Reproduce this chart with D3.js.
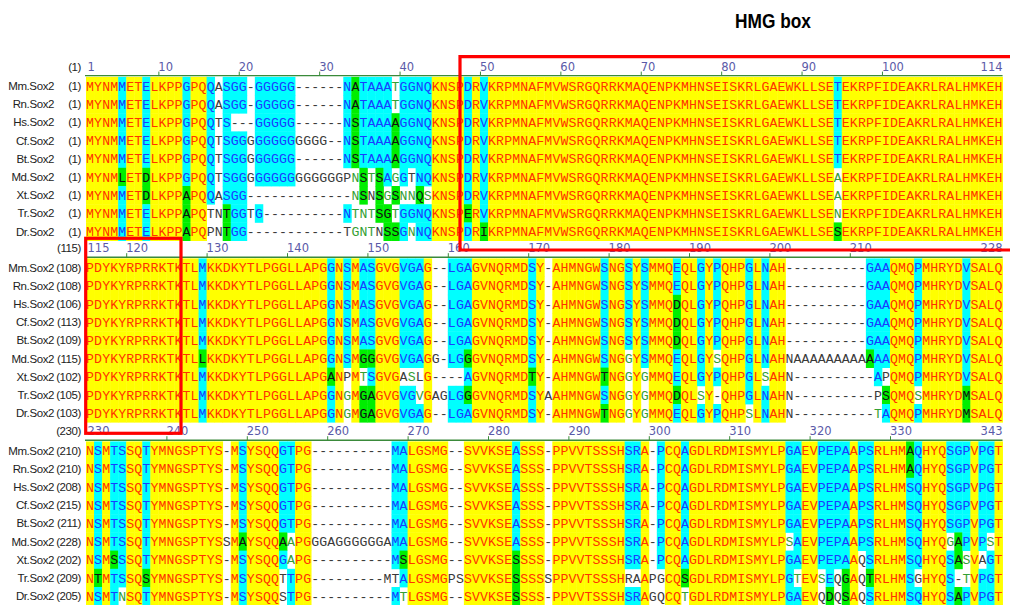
<!DOCTYPE html>
<html>
<head>
<meta charset="utf-8">
<script src="https://cdn.jsdelivr.net/npm/d3@7"></script>
<style>
  body { margin: 0; background: #fff; }
  svg { display: block; }
</style>
</head>
<body>
<svg id="chart" width="1010" height="605"></svg>
<script>
// Sox2 protein alignment, three blocks of 114 columns each.
const species = ["Mm.Sox2", "Rn.Sox2", "Hs.Sox2", "Cf.Sox2", "Bt.Sox2", "Md.Sox2", "Xt.Sox2", "Tr.Sox2", "Dr.Sox2"];

// Block 1: alignment columns 1-114
const block1 = [
  "MYNMMETELKPPGPQQASGG-GGGGG------NATAAATGGNQKNSPDRVKRPMNAFMVWSRGQRRKMAQENPKMHNSEISKRLGAEWKLLSETEKRPFIDEAKRLRALHMKEH",
  "MYNMMETELKPPGPQQASGG-GGGGG------NATAAATGGNQKNSPDRVKRPMNAFMVWSRGQRRKMAQENPKMHNSEISKRLGAEWKLLSETEKRPFIDEAKRLRALHMKEH",
  "MYNMMETELKPPGPQQTS---GGGGG------NSTAAAAGGNQKNSPDRVKRPMNAFMVWSRGQRRKMAQENPKMHNSEISKRLGAEWKLLSETEKRPFIDEAKRLRALHMKEH",
  "MYNMMETELKPPGPQQTSGGGGGGGGGGGG--NSTAAAAGGNQKNSPDRVKRPMNAFMVWSRGQRRKMAQENPKMHNSEISKRLGAEWKLLSETEKRPFIDEAKRLRALHMKEH",
  "MYNMMETELKPPGPQQTSGGGGGGGG------NSTAAAAGGNQKNSPDRVKRPMNAFMVWSRGQRRKMAQENPKMHNSEISKRLGAEWKLLSETEKRPFIDEAKRLRALHMKEH",
  "MYNMLETDLKPPGPQQTSGGGGGGGGGGGGGGPNSTSAGGTNQKNSPDRVKRPMNAFMVWSRGQRRKMAQENPKMHNSEISKRLGAEWKLLSEAEKRPFIDEAKRLRALHMKEH",
  "MYNMMETDLKPPAPQQASGG-------------NSNSGSNNQSKNSPDRVKRPMNAFMVWSRGQRRKMAQENPKMHNSEISKRLGAEWKLLSEAEKRPFIDEAKRLRALHMKEH",
  "MYNMMETELKPPAPQTNTGGTG----------NTNTSGTGGNQKNSPERVKRPMNAFMVWSRGQRRKMAQENPKMHNSEISKRLGAEWKLLSENEKRPFIDEAKRLRALHMKEH",
  "MYNMMETELKPPAPQPNTGG------------TGNTNSSGNNQKNSPDRIKRPMNAFMVWSRGQRRKMAQENPKMHNSEISKRLGAEWKLLSESEKRPFIDEAKRLRALHMKEH"
];

// Block 2: alignment columns 115-228
const block2 = [
  "PDYKYRPRRKTKTLMKKDKYTLPGGLLAPGGNSMASGVGVGAG--LGAGVNQRMDSY-AHMNGWSNGSYSMMQEQLGYPQHPGLNAH----------GAAQMQPMHRYDVSALQ",
  "PDYKYRPRRKTKTLMKKDKYTLPGGLLAPGGNSMASGVGVGAG--LGAGVNQRMDSY-AHMNGWSNGSYSMMQEQLGYPQHPGLNAH----------GAAQMQPMHRYDVSALQ",
  "PDYKYRPRRKTKTLMKKDKYTLPGGLLAPGGNSMASGVGVGAG--LGAGVNQRMDSY-AHMNGWSNGSYSMMQDQLGYPQHPGLNAH----------GAAQMQPMHRYDVSALQ",
  "PDYKYRPRRKTKTLMKKDKYTLPGGLLAPGGNSMASGVGVGAG--LGAGVNQRMDSY-AHMNGWSNGSYSMMQDQLGYPQHPGLNAH----------GAAQMQPMHRYDVSALQ",
  "PDYKYRPRRKTKTLMKKDKYTLPGGLLAPGGNSMASGVGVGAG--LGAGVNQRMDSY-AHMNGWSNGSYSMMQDQLGYPQHPGLNAH----------GAAQMQPMHRYDVSALQ",
  "PDYKYRPRRKTKTLLKKDKYTLPGGLLAPGGNSMGGGVGVGAGG-LGGGVNQRMDSY-AHMNGWSNGGYSMMQEQLGYSQHPGLNAHNAAAAAAAAAAAAQMQPMHRYDVSALQ",
  "PDYKYRPRRKTKTLMKKDKYTLPGGLLAPGANPMTSGVGASLG----AGVNQRMDTY-AHMNGWTNGGYGMMQEQLGYPQHPGLSAHN----------APQMQPMHRYDVSALQ",
  "PDYKYRPRRKTKTLMKKDKYTLPGGLLAPGGNGMGAGVGVGVGAGLGGGVNQRMDSYAAHMNGWSNGGYGMMQDQLSY-QHPGLNAHN----------PSQMQSMHRYDMSALQ",
  "PDYKYRPRRKTKTLMKKDKYTLPGGLLAPGGNGMGAGVGVGAG--LGAGVNQRMDSY-AHMNGWTNGGYGMMQEQLGYPQHPSLNAHN----------TAQMQPMHRYDMSALQ"
];

// Block 3: alignment columns 230-343
const block3 = [
  "NSMTSSQTYMNGSPTYS-MSYSQQGTPG----------MALGSMG--SVVKSEASSS-PPVVTSSSHSRA-PCQAGDLRDMISMYLPGAEVPEPAAPSRLHMAQHYQSGPVPGT",
  "NSMTSSQTYMNGSPTYS-MSYSQQGTPG----------MALGSMG--SVVKSEASSS-PPVVTSSSHSRA-PCQAGDLRDMISMYLPGAEVPEPAAPSRLHMAQHYQSGPVPGT",
  "NSMTSSQTYMNGSPTYS-MSYSQQGTPG----------MALGSMG--SVVKSEASSS-PPVVTSSSHSRA-PCQAGDLRDMISMYLPGAEVPEPAAPSRLHMSQHYQSGPVPGT",
  "NSMTSSQTYMNGSPTYS-MSYSQQGTPG----------MALGSMG--SVVKSEASSS-PPVVTSSSHSRA-PCQAGDLRDMISMYLPGAEVPEPAAPSRLHMSQHYQSGPVPGT",
  "NSMTSSQTYMNGSPTYS-MSYSQQGTPG----------MALGSMG--SVVKSEASSS-PPVVTSSSHSRA-PCQAGDLRDMISMYLPGAEVPEPAAPSRLHMSQHYQSGPVPGT",
  "NSMTSSQTYMNGSPTYSSMAYSQQAAPGGGAGGGGGGAMALGSMG--SVVKSEASSS-PPVVTSSSHSRA-PCQAGDLRDMISMYLPSAEVPEPAAPSRLHMSQHYQGAPVPST",
  "NSMSSSQTYMNGSPTYS-MSYSQQGAPG----------MSLGSMG--SVVKSESSSS-PPVVTSSSHSRA-PCQAGDLRDMISMYLPGAEVPEPAAQSRLHMSQHYQSASVAGT",
  "NTMTSSQSYMNGSPTYS-MSYSQQTTPG---------MTALGSMGPSSVVKSESSSSSPPVVTSSSHRAAPGCQSGDLRDMISMYLPGTEVSEQGAQTRLHMSGHYQS-TVPGT",
  "NSMTNSQTYMNGSPTYS-MSYSQQSTPG----------MTLGSMG--SVVKSESSSS-PPVVTSSSHSRAGQCQTGDLRDMISMYLPGAEVQDQSAQSRLHMSQHYQSAPVPGT"
];

// First residue number of each row at the start of each block
const startNums1 = [1, 1, 1, 1, 1, 1, 1, 1, 1];
const startNums2 = [108, 108, 106, 113, 109, 115, 102, 105, 103];
const startNums3 = [210, 210, 208, 215, 211, 228, 202, 209, 205];

// Column numbers printed on each block's ruler
const ruler1 = [1, 10, 20, 30, 40, 50, 60, 70, 80, 90, 100, 114];
const ruler2 = [115, 120, 130, 140, 150, 160, 170, 180, 190, 200, 210, 228];
const ruler3 = [230, 240, 250, 260, 270, 280, 290, 300, 310, 320, 330, 343];

// Residues shaded as similar (g: green block) or weakly similar (w: green letter)
const similar1 = [
  "Md 5 g", "Md 8 g", "Xt 8 g", "Xt 13 g", "Tr 13 g", "Dr 13 g", "Tr 18 g", "Dr 18 g",
  "Mm 34 g", "Rn 34 g", "Hs 34 g", "Cf 34 g", "Bt 34 g", "Md 34 w", "Xt 34 w", "Tr 34 w", "Dr 34 w",
  "Md 35 g", "Xt 35 g", "Tr 35 w", "Dr 35 w",
  "Md 36 w", "Tr 36 w", "Dr 36 w",
  "Md 37 g", "Xt 37 g", "Tr 37 g",
  "Xt 38 w", "Tr 38 g", "Dr 38 g",
  "Mm 39 w", "Rn 39 w", "Hs 39 g", "Cf 39 g", "Bt 39 g", "Md 39 w", "Xt 39 g", "Tr 39 w", "Dr 39 g",
  "Xt 40 w", "Xt 41 w", "Dr 41 w", "Xt 42 g", "Xt 43 w",
  "Tr 48 g", "Dr 50 g",
  "Md 94 w", "Xt 94 w", "Tr 94 w", "Dr 94 g"
];
const similar2 = [
  "Md 129 g", "Xt 145 g", "Tr 147 w", "Dr 147 w",
  "Md 149 g", "Xt 149 w", "Tr 149 g", "Dr 149 g",
  "Md 150 g", "Tr 150 g", "Dr 150 g",
  "Xt 155 w", "Tr 156 w",
  "Md 162 g", "Tr 162 g", "Xt 170 g",
  "Xt 179 g", "Dr 179 g",
  "Md 182 w", "Xt 182 w", "Tr 182 w", "Dr 182 w",
  "Xt 184 w", "Tr 184 w", "Dr 184 w",
  "Hs 188 g", "Cf 188 g", "Bt 188 g", "Tr 188 g",
  "Tr 191 w", "Md 193 w", "Dr 197 w", "Xt 199 w",
  "Md 212 g", "Dr 213 w", "Tr 214 g", "Tr 218 w", "Tr 224 g", "Dr 224 g"
];
const similar3 = [
  "Tr 231 g", "Xt 233 g", "Dr 234 w", "Tr 237 g",
  "Md 249 g", "Md 254 g", "Md 255 w", "Xt 255 w",
  "Xt 269 g", "Dr 269 w",
  "Xt 283 g", "Tr 283 g", "Dr 283 g",
  "Tr 304 g", "Dr 304 w",
  "Md 317 w", "Tr 318 w", "Tr 321 w", "Dr 322 g", "Tr 324 g", "Dr 324 g", "Tr 327 g",
  "Mm 332 g", "Rn 332 g",
  "Md 337 w", "Md 338 g", "Xt 338 g", "Dr 338 g", "Xt 339 w", "Tr 339 w", "Md 342 w"
];

const blocks = [
  { seqs: block1, first: 1, nums: startNums1, ruler: ruler1, marks: similar1, top: 76.8 },
  { seqs: block2, first: 115, nums: startNums2, ruler: ruler2, marks: similar2, top: 258.4 },
  { seqs: block3, first: 230, nums: startNums3, ruler: ruler3, marks: similar3, top: 441.4 }
];

const COLS = 114;
const CELL_W = 8.04;
const ROW_H = 18.2;
const LEFT = 86;

blocks.forEach((b, bi) => b.seqs.forEach((s, i) => {
  if (s.length !== COLS) throw new Error("block " + (bi + 1) + " row " + species[i] + " has " + s.length + " columns");
}));

const palette = {
  y: { bg: "#ffff00", fg: "#ff3300" },
  c: { bg: "#00ffff", fg: "#1a3cff" },
  g: { bg: "#00ee00", fg: "#111111" },
  w: { bg: null, fg: "#33a033" },
  n: { bg: null, fg: "#3a3a3a" }
};

const svg = d3.select("#chart");
const x = d3.scaleLinear().domain([0, COLS]).range([LEFT, LEFT + COLS * CELL_W]);
const shortName = s => s.split(".")[0];

// Shade class for every residue of a block
function shade(block) {
  const marks = new Map(block.marks.map(m => {
    const [sp, pos, cls] = m.split(" ");
    return [sp + ":" + pos, cls];
  }));
  const cells = [];
  for (let j = 0; j < COLS; j++) {
    const col = block.seqs.map(s => s[j]);
    const allSame = col.every(ch => ch !== "-" && ch === col[0]);
    const counts = d3.rollup(col.filter(ch => ch !== "-"), v => v.length, ch => ch);
    let cons = null, best = 0;
    counts.forEach((n, ch) => { if (n > best) { best = n; cons = ch; } });
    if (best < 5) cons = null;
    col.forEach((ch, r) => {
      let cls;
      if (ch === "-") cls = "n";
      else if (allSame) cls = "y";
      else if (ch === cons) cls = "c";
      else cls = marks.get(shortName(species[r]) + ":" + (block.first + j)) || "n";
      cells.push({ row: r, col: j, ch, cls });
    });
  }
  return cells;
}

blocks.forEach(block => {
  const y = d3.scaleBand().domain(species).range([block.top, block.top + species.length * ROW_H]);
  const g = svg.append("g");
  const cells = shade(block);

  g.selectAll("rect.bg")
    .data(cells.filter(d => palette[d.cls].bg))
    .join("rect")
    .attr("class", "bg")
    .attr("x", d => x(d.col))
    .attr("y", d => y(species[d.row]))
    .attr("width", CELL_W + 0.4)
    .attr("height", y.bandwidth() + 0.4)
    .attr("fill", d => palette[d.cls].bg);

  g.selectAll("text.res")
    .data(cells)
    .join("text")
    .attr("class", "res")
    .attr("x", d => x(d.col) + CELL_W / 2)
    .attr("y", d => y(species[d.row]) + y.bandwidth() / 2 + 4.6)
    .attr("text-anchor", "middle")
    .attr("font-family", "'Liberation Mono', 'DejaVu Sans Mono', monospace")
    .attr("font-size", 13.2)
    .attr("fill", d => palette[d.cls].fg)
    .text(d => d.ch);

  // species names and starting residue numbers
  g.selectAll("text.name")
    .data(species)
    .join("text")
    .attr("class", "name")
    .attr("x", 54)
    .attr("y", d => y(d) + y.bandwidth() / 2 + 4)
    .attr("text-anchor", "end")
    .attr("font-family", "'Liberation Sans', Arial, sans-serif")
    .attr("font-size", 11.5)
    .attr("letter-spacing", -0.4)
    .attr("fill", "#222")
    .text(d => d);

  g.selectAll("text.num")
    .data(block.nums)
    .join("text")
    .attr("class", "num")
    .attr("x", 81)
    .attr("y", (d, i) => y(species[i]) + y.bandwidth() / 2 + 4)
    .attr("text-anchor", "end")
    .attr("font-family", "'Liberation Sans', Arial, sans-serif")
    .attr("font-size", 11.5)
    .attr("letter-spacing", -0.4)
    .attr("fill", "#222")
    .text(d => "(" + d + ")");

  // ruler
  const lineY = block.top - 1.2;
  g.append("line")
    .attr("x1", LEFT - 1).attr("x2", x(COLS))
    .attr("y1", lineY).attr("y2", lineY)
    .attr("stroke", "#3a8a3a").attr("stroke-width", 1.4);

  const last = block.ruler.length - 1;
  g.selectAll("line.tick")
    .data(block.ruler.filter((v, i) => i > 0 && i < last))
    .join("line")
    .attr("class", "tick")
    .attr("x1", v => x(v - block.first) + 0.5).attr("x2", v => x(v - block.first) + 0.5)
    .attr("y1", lineY).attr("y2", lineY - 4)
    .attr("stroke", "#3a8a3a").attr("stroke-width", 1);

  g.selectAll("text.rule")
    .data(block.ruler)
    .join("text")
    .attr("class", "rule")
    .attr("x", (v, i) => i === last ? x(COLS) : x(v - block.first) + (i === 0 ? 1.5 : 0))
    .attr("y", lineY - 5)
    .attr("text-anchor", (v, i) => i === last ? "end" : "start")
    .attr("font-family", "'DejaVu Sans', Verdana, sans-serif")
    .attr("font-size", 11.5)
    .attr("fill", "#5a5aa8")
    .text(v => v);

  g.append("text")
    .attr("x", 81)
    .attr("y", lineY - 5)
    .attr("text-anchor", "end")
    .attr("font-family", "'Liberation Sans', Arial, sans-serif")
    .attr("font-size", 11.5)
    .attr("letter-spacing", -0.4)
    .attr("fill", "#222")
    .text("(" + block.first + ")");
});

// HMG box outline: columns 47-114 of block 1 and 115-126 of block 2
const box = svg.append("g").attr("fill", "none").attr("stroke", "#ff0000").attr("stroke-width", 3.2);
box.append("path").attr("d", d3.line()([[1014, 56.7], [460, 56.7], [460, 250], [1014, 250]]));
box.append("rect").attr("x", 85.7).attr("y", 238.3).attr("width", 181 - 85.7).attr("height", 433.3 - 238.3);

svg.append("text")
  .attr("x", 735)
  .attr("y", 27.5)
  .attr("font-family", "'Liberation Sans', Arial, sans-serif")
  .attr("font-weight", "bold")
  .attr("font-size", 19.5)
  .attr("textLength", 76)
  .attr("lengthAdjust", "spacingAndGlyphs")
  .attr("fill", "#000")
  .text("HMG box");
</script>
</body>
</html>
